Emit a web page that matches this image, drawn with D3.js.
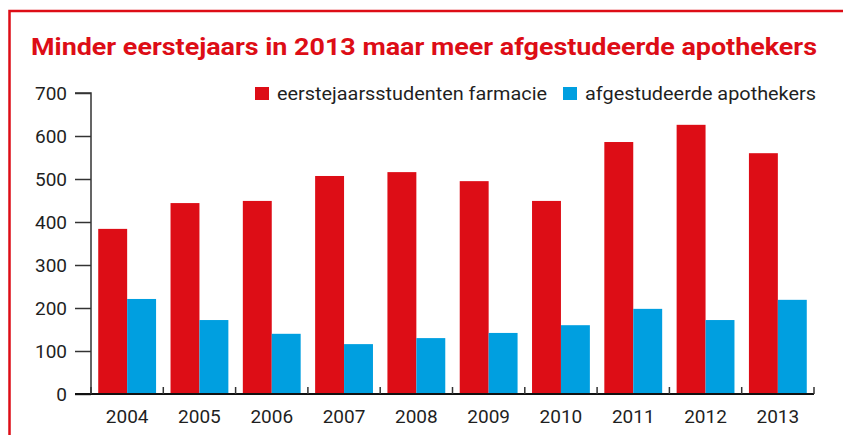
<!DOCTYPE html>
<html>
<head>
<meta charset="utf-8">
<script src="https://cdn.jsdelivr.net/npm/d3@7"></script>
<style>
  html, body { margin: 0; padding: 0; background: #fff; }
  svg { display: block; font-family: Roboto, "DejaVu Sans", sans-serif; }
</style>
</head>
<body>
<svg width="843" height="435"></svg>
<script>
// data
var years = ["2004", "2005", "2006", "2007", "2008", "2009", "2010", "2011", "2012", "2013"];
var eerstejaars = [384, 444, 449, 507, 516, 495, 449, 586, 626, 560];
var afgestudeerd = [221, 172, 140, 116, 130, 142, 160, 198, 172, 219];
var seriesNames = ["eerstejaarsstudenten farmacie", "afgestudeerde apothekers"];
var yTicks = [0, 100, 200, 300, 400, 500, 600, 700];

var red = "#dd0d16", blue = "#009fe0", ink = "#1f1f1f";

const svg = d3.select("svg"),
  width = +svg.attr("width"),
  height = +svg.attr("height");

// red frame, runs off the right and bottom edge
svg.append("rect")
  .attr("x", 9.5).attr("y", 11)
  .attr("width", width + 20).attr("height", height + 20)
  .attr("fill", "none")
  .attr("stroke", red)
  .attr("stroke-width", 2.5);

svg.append("text")
  .attr("x", 31).attr("y", 55)
  .attr("fill", red)
  .attr("font-weight", "bold")
  .attr("font-size", 24)
  .attr("textLength", 786)
  .attr("lengthAdjust", "spacingAndGlyphs")
  .text("Minder eerstejaars in 2013 maar meer afgestudeerde apothekers");

const x = d3.scaleBand()
  .domain(years)
  .range([91, 814])
  .paddingInner(0.2)
  .paddingOuter(0.1);

const x1 = d3.scaleBand()
  .domain([0, 1])
  .range([0, x.bandwidth()]);

const y = d3.scaleLinear()
  .domain([0, 700])
  .range([394, 93]);

// bars
const rows = years.map((yr, i) => ({ year: yr, vals: [eerstejaars[i], afgestudeerd[i]] }));
const grp = svg.append("g").selectAll("g")
  .data(rows)
  .join("g")
    .attr("transform", d => "translate(" + x(d.year) + ",0)");

grp.selectAll("rect")
  .data(d => d.vals)
  .join("rect")
    .attr("x", (d, i) => x1(i))
    .attr("y", d => y(d))
    .attr("width", x1.bandwidth())
    .attr("height", d => y(0) - y(d))
    .attr("fill", (d, i) => i == 0 ? red : blue);

// y axis
const yAxis = svg.append("g")
  .attr("transform", "translate(91,0)")
  .call(d3.axisLeft(y).tickValues(yTicks).tickSize(16).tickPadding(8));
yAxis.select(".domain").attr("stroke", "#333").attr("stroke-width", 1.5)
  .attr("d", "M0," + y(0) + "V" + y(700) + "H-16");
yAxis.selectAll(".tick line").attr("stroke", "#333").attr("stroke-width", 1.5);
yAxis.selectAll(".tick text")
  .attr("font-size", 19)
  .attr("font-family", "Roboto, sans-serif")
  .attr("fill", ink);

// x axis: baseline plus small upward ticks between the years
const xAxis = svg.append("g").attr("transform", "translate(0," + y(0) + ")");
xAxis.append("line")
  .attr("x1", 75).attr("x2", 814)
  .attr("stroke", "#111").attr("stroke-width", 2);

const bounds = years.map(d => x(d) - x.step() * x.paddingOuter()).concat([814]);
xAxis.selectAll(".sep")
  .data(bounds)
  .join("line")
    .attr("class", "sep")
    .attr("x1", d => d).attr("x2", d => d)
    .attr("y1", 0).attr("y2", -7)
    .attr("stroke", "#333").attr("stroke-width", 1.5);

xAxis.selectAll(".yl")
  .data(years)
  .join("text")
    .attr("class", "yl")
    .attr("x", d => x(d) + x.bandwidth() / 2)
    .attr("y", 29)
    .attr("text-anchor", "middle")
    .attr("font-size", 19)
    .attr("fill", ink)
    .text(d => d);

// legend
const legendPos = [255, 563];
const textLen = [270, 231];
const lg = svg.append("g").selectAll("g")
  .data(seriesNames)
  .join("g")
    .attr("transform", (d, i) => "translate(" + legendPos[i] + ",87)");
lg.append("rect")
  .attr("width", 14).attr("height", 13)
  .attr("fill", (d, i) => i == 0 ? red : blue);
lg.append("text")
  .attr("x", 22).attr("y", 13)
  .attr("font-size", 19)
  .attr("fill", ink)
  .attr("textLength", (d, i) => textLen[i])
  .attr("lengthAdjust", "spacingAndGlyphs")
  .text(d => d);
</script>
</body>
</html>
